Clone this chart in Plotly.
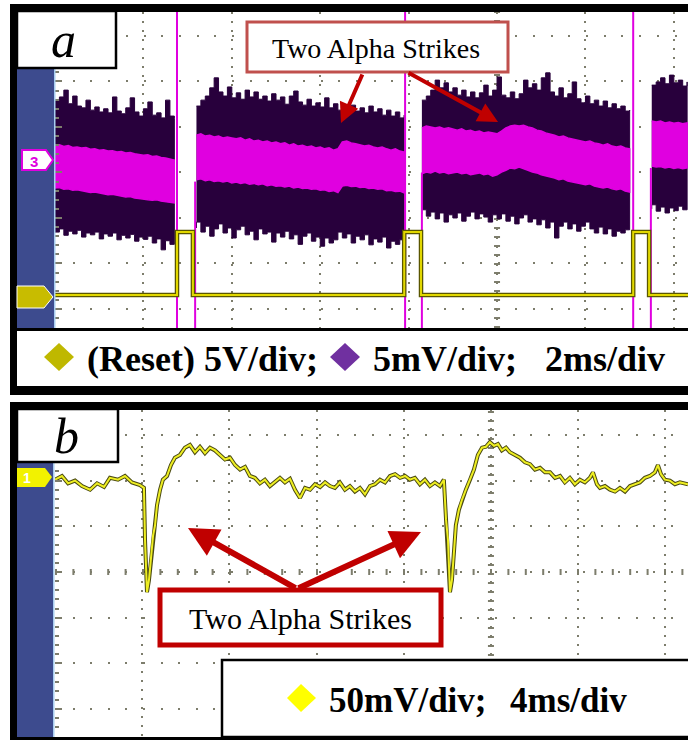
import plotly.graph_objects as go

# ------------------------- data (panel a: 2 ms/div, y in divisions) -------------------------
seg1_t = [0.0, 0.1, 0.2, 0.3, 0.4, 0.5, 0.6, 0.7, 0.8, 0.9, 1.0, 1.1, 1.2, 1.3, 1.4, 1.5, 1.6, 1.7,
          1.8, 1.9, 2.0, 2.1, 2.2, 2.3, 2.4, 2.5, 2.6, 2.7]
seg1_purple_top = [1.59, 1.66, 1.81, 1.51, 1.68, 1.46, 1.42, 1.59, 1.37, 1.44, 1.33, 1.40, 1.31, 1.66,
                   1.35, 1.29, 1.42, 1.64, 1.33, 1.24, 1.40, 1.55, 1.26, 1.31, 1.20, 1.59, 1.24, 1.18]
seg1_purple_bot = [-1.20, -1.31, -1.24, -1.38, -1.29, -1.35, -1.27, -1.42, -1.33, -1.37, -1.31, -1.46,
                   -1.35, -1.40, -1.33, -1.48, -1.38, -1.44, -1.36, -1.51, -1.42, -1.47, -1.40, -1.55,
                   -1.46, -1.70, -1.50, -1.58]
seg1_mag_top = [0.60, 0.61, 0.57, 0.59, 0.55, 0.56, 0.54, 0.55, 0.51, 0.52, 0.49, 0.50, 0.47, 0.48,
                0.45, 0.46, 0.43, 0.44, 0.41, 0.40, 0.38, 0.39, 0.35, 0.36, 0.33, 0.32, 0.29, 0.27]
seg1_mag_bot = [-0.34, -0.33, -0.37, -0.36, -0.39, -0.38, -0.41, -0.42, -0.44, -0.43, -0.46, -0.47,
                -0.49, -0.48, -0.51, -0.52, -0.54, -0.53, -0.56, -0.57, -0.58, -0.60, -0.61, -0.60,
                -0.63, -0.64, -0.66, -0.67]

seg2_t = [3.2, 3.3, 3.4, 3.5, 3.6, 3.7, 3.8, 3.9, 4.0, 4.1, 4.2, 4.3, 4.4, 4.5, 4.6, 4.7, 4.8, 4.9,
          5.0, 5.1, 5.2, 5.3, 5.4, 5.5, 5.6, 5.7, 5.8, 5.9, 6.0, 6.1, 6.2, 6.3, 6.4, 6.5, 6.6, 6.7,
          6.8, 6.9, 7.0, 7.1, 7.2, 7.3, 7.4, 7.5, 7.6, 7.7, 7.8, 7.9]
seg2_purple_top = [1.46, 1.59, 1.68, 1.86, 2.08, 1.77, 1.68, 1.88, 1.64, 1.75,
                   1.61, 1.81, 1.66, 1.77, 1.61, 1.68, 1.57, 1.73, 1.59, 1.66,
                   1.50, 1.68, 1.79, 1.55, 1.48, 1.61, 1.46, 1.53, 1.44, 1.64,
                   1.42, 1.51, 1.37, 1.44, 1.33, 1.48, 1.35, 1.42, 1.31, 1.46,
                   1.33, 1.40, 1.26, 1.37, 1.24, 1.33, 1.20, 1.26]
seg2_purple_bot = [-1.22, -1.09, -1.31, -1.18, -1.40, -1.24, -1.13, -1.33, -1.22, -1.44,
                   -1.26, -1.18, -1.37, -1.29, -1.48, -1.24, -1.35, -1.31, -1.53, -1.33,
                   -1.42, -1.29, -1.46, -1.37, -1.58, -1.40, -1.33, -1.51, -1.42, -1.62,
                   -1.44, -1.55, -1.48, -1.31, -1.44, -1.35, -1.55, -1.40, -1.48, -1.37,
                   -1.59, -1.46, -1.53, -1.42, -1.66, -1.51, -1.58, -1.48]
seg2_mag_top = [0.82, 0.85, 0.80, 0.82, 0.78, 0.80, 0.76, 0.78, 0.76, 0.74,
                0.76, 0.71, 0.74, 0.69, 0.71, 0.67, 0.69, 0.65, 0.67, 0.63,
                0.65, 0.60, 0.63, 0.58, 0.60, 0.56, 0.58, 0.54, 0.56, 0.52,
                0.54, 0.49, 0.52, 0.67, 0.69, 0.65, 0.63, 0.60, 0.58, 0.60,
                0.56, 0.54, 0.56, 0.52, 0.49, 0.52, 0.47, 0.45]
seg2_mag_bot = [-0.16, -0.14, -0.18, -0.16, -0.20, -0.18, -0.21, -0.19, -0.23, -0.21,
                -0.24, -0.22, -0.26, -0.24, -0.27, -0.25, -0.29, -0.27, -0.30, -0.29,
                -0.32, -0.30, -0.34, -0.32, -0.35, -0.34, -0.37, -0.36, -0.39, -0.38,
                -0.42, -0.40, -0.44, -0.30, -0.28, -0.31, -0.30, -0.33, -0.32, -0.35,
                -0.34, -0.37, -0.36, -0.40, -0.39, -0.42, -0.41, -0.45]

seg3_t = [8.3, 8.4, 8.5, 8.6, 8.7, 8.8, 8.9, 9.0, 9.1, 9.2, 9.3, 9.4, 9.5, 9.6, 9.7, 9.8, 9.9,
          10.0, 10.1, 10.2, 10.3, 10.4, 10.5, 10.6, 10.7, 10.8, 10.9, 11.0, 11.1, 11.2, 11.3,
          11.4, 11.5, 11.6, 11.7, 11.8, 11.9, 12.0, 12.1, 12.2, 12.3, 12.4, 12.5, 12.6, 12.7,
          12.8, 12.9, 13.0]
seg3_purple_top = [1.59, 1.68, 1.81, 2.03, 1.86, 1.97, 1.77, 1.86, 1.70, 1.81,
                   1.66, 1.77, 1.64, 1.75, 1.92, 1.68, 1.81, 2.10, 1.70, 1.64,
                   1.77, 1.62, 1.73, 2.03, 1.86, 1.95, 1.81, 2.08, 2.19, 1.77,
                   1.68, 1.86, 1.64, 1.73, 1.99, 1.62, 1.53, 1.68, 1.51, 1.59,
                   1.46, 1.57, 1.42, 1.51, 1.40, 1.46, 1.35, 1.37]
seg3_purple_bot = [-0.91, -0.82, -0.96, -0.87, -1.02, -0.89, -1.09, -0.93, -1.00, -0.89,
                   -1.07, -0.96, -0.87, -1.02, -0.91, -0.98, -1.09, -0.93, -1.02, -0.91,
                   -1.07, -0.96, -1.13, -1.00, -0.93, -1.09, -1.02, -1.15, -1.04, -1.22,
                   -1.09, -1.44, -1.18, -1.09, -1.24, -1.13, -1.29, -1.18, -1.09, -1.24,
                   -1.33, -1.20, -1.35, -1.24, -1.40, -1.29, -1.33, -1.26]
seg3_mag_top = [0.98, 1.02, 1.00, 0.98, 1.00, 0.96, 0.98, 0.96, 0.93, 0.96,
                0.91, 0.93, 0.89, 0.91, 0.87, 0.89, 0.87, 0.85, 0.91, 0.98,
                1.02, 1.04, 1.02, 1.04, 1.00, 0.98, 0.93, 0.91, 0.87, 0.85,
                0.82, 0.78, 0.80, 0.76, 0.74, 0.71, 0.69, 0.67, 0.69, 0.65,
                0.63, 0.60, 0.63, 0.58, 0.56, 0.58, 0.54, 0.52]
seg3_mag_bot = [-0.03, 0.01, -0.01, 0.03, -0.01, 0.01, -0.03, -0.01, 0.01, -0.03,
                -0.01, -0.05, -0.03, -0.01, -0.05, -0.03, -0.08, -0.05, 0.01, 0.05,
                0.10, 0.08, 0.12, 0.08, 0.05, 0.01, -0.01, -0.05, -0.08, -0.10,
                -0.12, -0.16, -0.14, -0.19, -0.21, -0.23, -0.25, -0.27, -0.25, -0.30,
                -0.32, -0.34, -0.32, -0.36, -0.38, -0.36, -0.41, -0.43]

seg4_t = [13.5, 13.6, 13.7, 13.8, 13.9, 14.0, 14.1, 14.2, 14.3]
seg4_purple_top = [1.92, 1.99, 2.08, 1.95, 2.14, 1.97, 2.03, 1.90, 1.99]
seg4_purple_bot = [-0.80, -0.71, -0.85, -0.76, -0.89, -0.78, -0.84, -0.74, -0.82]
seg4_mag_top = [1.13, 1.11, 1.13, 1.09, 1.11, 1.08, 1.10, 1.07, 1.09]
seg4_mag_bot = [0.14, 0.12, 0.13, 0.10, 0.12, 0.09, 0.11, 0.08, 0.10]

# fast reset transitions of the CH3 trace (time, upper, lower) in divisions
edge_t = [2.76, 3.17, 7.92, 8.30, 13.08, 13.48]
edge_top = [3.6, -0.2, 3.6, 0.0, 3.6, 0.1]
edge_bot = [-3.5, -3.5, -3.5, -3.5, -3.5, -3.5]

# reset signal (5 V/div) in divisions
reset_t = [0.0, 2.76, 3.12, 7.90, 8.28, 13.08, 13.44, 14.32]
reset_v = [-2.69, -1.31, -2.69, -1.31, -2.69, -1.31, -2.69, -2.69]

# ------------------------- data (panel b: 4 ms/div, mV) -------------------------
b_t = [0.00, 0.32, 0.60, 0.92, 1.24, 1.61, 1.93, 2.25, 2.52, 2.89,
       3.21, 3.53, 3.90, 4.08, 4.13, 4.17, 4.22, 4.31, 4.40, 4.50,
       4.59, 4.68, 4.82, 4.95, 5.14, 5.32, 5.50, 5.73, 5.96, 6.19,
       6.42, 6.65, 6.88, 7.11, 7.34, 7.57, 7.80, 8.03, 8.26, 8.49,
       8.72, 8.94, 9.17, 9.40, 9.63, 9.86, 10.09, 10.32, 10.55, 10.78,
       11.01, 11.24, 11.47, 11.70, 11.93, 12.16, 12.39, 12.61, 12.84, 13.07,
       13.30, 13.53, 13.76, 13.99, 14.22, 14.45, 14.68, 14.91, 15.14, 15.37,
       15.60, 15.83, 16.06, 16.28, 16.51, 16.74, 16.97, 17.20, 17.43, 17.66,
       17.84, 17.94, 18.03, 18.12, 18.21, 18.30, 18.39, 18.53, 18.67, 18.85,
       19.04, 19.22, 19.40, 19.59, 19.77, 19.95, 20.14, 20.32, 20.50, 20.69,
       20.87, 21.10, 21.33, 21.56, 21.79, 22.02, 22.25, 22.48, 22.71, 22.94,
       23.17, 23.39, 23.62, 23.85, 24.08, 24.31, 24.54, 24.68, 24.86, 25.00,
       25.23, 25.46, 25.69, 25.92, 26.15, 26.38, 26.61, 26.83, 27.06, 27.29,
       27.52, 27.66, 27.80, 27.98, 28.21, 28.44, 28.67, 29.04]
b_mv = [101, 105, 97, 100, 94, 90, 97, 93, 103, 101,
        105, 98, 95, 92, 35, -3, -22, -9, 13, 40,
        51, 73, 90, 101, 105, 117, 125, 128, 136, 139,
        131, 137, 130, 136, 133, 128, 123, 125, 117, 112,
        115, 105, 103, 97, 101, 94, 98, 103, 98, 102,
        90, 81, 92, 90, 96, 93, 98, 94, 92, 98,
        90, 94, 88, 92, 85, 94, 96, 101, 98, 105,
        107, 103, 105, 101, 103, 96, 101, 94, 98, 94,
        101, 57, 35, -22, -9, 19, 51, 68, 79, 90,
        101, 112, 128, 136, 137, 142, 138, 140, 133, 136,
        131, 128, 125, 120, 118, 112, 114, 109, 109, 103,
        105, 98, 103, 96, 101, 98, 103, 109, 96, 92,
        94, 90, 88, 92, 88, 94, 96, 98, 103, 105,
        109, 117, 107, 101, 100, 96, 98, 96]

# ------------------------- styling -------------------------
W, H = 688, 740
PURPLE = "#28003c"
MAGENTA = "#e000e0"
GRID = "#7d7d6c"
BLUE = "#3d4b8e"
SERIF = "Liberation Serif"


def px(x):
    return x / W


def py(y):
    return 1 - y / H


fig = go.Figure()

segments = [
    (seg1_t, seg1_purple_top, seg1_purple_bot, seg1_mag_top, seg1_mag_bot),
    (seg2_t, seg2_purple_top, seg2_purple_bot, seg2_mag_top, seg2_mag_bot),
    (seg3_t, seg3_purple_top, seg3_purple_bot, seg3_mag_top, seg3_mag_bot),
    (seg4_t, seg4_purple_top, seg4_purple_bot, seg4_mag_top, seg4_mag_bot),
]
for t, ptop, pbot, mtop, mbot in segments:
    fig.add_trace(go.Scatter(x=t + t[::-1], y=ptop + pbot[::-1], mode="lines", fill="toself",
                             fillcolor=PURPLE, line=dict(color=PURPLE, width=1, shape="hv"),
                             xaxis="x", yaxis="y", hoverinfo="skip"))
for t, ptop, pbot, mtop, mbot in segments:
    fig.add_trace(go.Scatter(x=t + t[::-1], y=mtop + mbot[::-1], mode="lines", fill="toself",
                             fillcolor=MAGENTA, line=dict(color=MAGENTA, width=1.5),
                             xaxis="x", yaxis="y", hoverinfo="skip"))

ex, ey = [], []
for t, a, b in zip(edge_t, edge_top, edge_bot):
    ex += [t, t, None]
    ey += [a, b, None]
fig.add_trace(go.Scatter(x=ex, y=ey, mode="lines", line=dict(color=MAGENTA, width=2),
                         xaxis="x", yaxis="y", hoverinfo="skip"))

fig.add_trace(go.Scatter(x=reset_t, y=reset_v, mode="lines", line=dict(color="#5a5600", width=4.5, shape="hv"),
                         xaxis="x", yaxis="y", hoverinfo="skip"))
fig.add_trace(go.Scatter(x=reset_t, y=reset_v, mode="lines", line=dict(color="#e2d800", width=2, shape="hv"),
                         xaxis="x", yaxis="y", hoverinfo="skip"))

fig.add_trace(go.Scatter(x=b_t, y=b_mv, mode="lines", line=dict(color="#4a4a12", width=4),
                         xaxis="x2", yaxis="y2", hoverinfo="skip"))
fig.add_trace(go.Scatter(x=b_t, y=b_mv, mode="lines", line=dict(color="#eeee22", width=2),
                         xaxis="x2", yaxis="y2", hoverinfo="skip"))

common = dict(showticklabels=False, zeroline=False, showline=False, gridcolor=GRID, gridwidth=2)
fig.update_layout(
    width=W, height=H, margin=dict(l=0, r=0, t=0, b=0),
    paper_bgcolor="white", plot_bgcolor="white", showlegend=False,
    xaxis=dict(domain=[px(55), 1], range=[0, 14.32], dtick=2, tick0=0, anchor="y",
               griddash="2px,7px", ticks="", **common),
    yaxis=dict(domain=[py(328), py(12)], range=[-3.418, 3.527], dtick=1, tick0=0, anchor="x",
               griddash="2px,15.7px", ticks="inside", ticklen=7, tickwidth=2, tickcolor=GRID,
               minor=dict(dtick=0.2, ticks="inside", ticklen=4, tickwidth=2, tickcolor=GRID, showgrid=False),
               **common),
    xaxis2=dict(domain=[px(55), 1], range=[0, 29.04], dtick=4, tick0=0, anchor="y2",
                griddash="2px,7px", ticks="", **common),
    yaxis2=dict(domain=[py(737), py(410)], range=[-180.5, 177.2], dtick=50, tick0=0, anchor="x2",
                griddash="2px,15.6px", ticks="inside", ticklen=7, tickwidth=2, tickcolor=GRID,
                minor=dict(dtick=10, ticks="inside", ticklen=4, tickwidth=2, tickcolor=GRID, showgrid=False),
                **common),
)

shapes = []


def rect(x0, y0, x1, y1, fill=None, line=None, lw=0, layer="above"):
    shapes.append(dict(type="rect", xref="paper", yref="paper", x0=px(x0), x1=px(x1), y0=py(y1), y1=py(y0),
                       fillcolor=fill if fill else "rgba(0,0,0,0)",
                       line=dict(color=line if line else "rgba(0,0,0,0)", width=lw), layer=layer))


def poly(points, fill, line=None, lw=0):
    d = "M " + " L ".join(f"{px(a):.5f},{py(b):.5f}" for a, b in points) + " Z"
    shapes.append(dict(type="path", xref="paper", yref="paper", path=d, fillcolor=fill,
                       line=dict(color=line if line else fill, width=lw), layer="above"))


# center graticule lines (denser marks)
shapes.append(dict(type="line", xref="x", yref="y domain", x0=10, x1=10, y0=0, y1=1,
                   line=dict(color=GRID, width=6, dash="2px,7px"), layer="below"))
shapes.append(dict(type="line", xref="x2", yref="y2 domain", x0=20, x1=20, y0=0, y1=1,
                   line=dict(color=GRID, width=6, dash="2px,7px"), layer="below"))
shapes.append(dict(type="line", xref="x2 domain", yref="y2", x0=0, x1=1, y0=0, y1=0,
                   line=dict(color=GRID, width=6, dash="2px,15.4px"), layer="below"))

# ---- panel a frame ----
rect(10, 4, 700, 12, fill="black")
rect(10, 4, 17, 395, fill="black")
rect(10, 328, 700, 331, fill="black")
rect(10, 386, 700, 395, fill="black")
rect(17, 68, 55, 328, fill=BLUE)
rect(54, 68, 55.5, 328, fill="#a8cdf0")
rect(17, 11, 116, 68, fill="white", line="black", lw=2.5)
poly([(22, 150), (46, 150), (53, 160), (46, 170), (22, 170)], "white", MAGENTA, 2)
poly([(17, 286), (44, 286), (53, 297), (44, 308), (17, 308)], "#c8bc00", "white", 1)
rect(247, 22, 508, 72, fill="white", line="#c0504d", lw=3)
poly([(44, 357), (59, 343), (74, 357), (59, 371)], "#bfb800")
poly([(330, 357), (345, 343), (360, 357), (345, 371)], "#7030a0")

# ---- panel b frame ----
rect(10, 402, 700, 410, fill="black")
rect(10, 402, 17, 740, fill="black")
rect(10, 737, 700, 745, fill="black")
rect(17, 462, 54, 737, fill=BLUE)
rect(53, 462, 54.5, 737, fill="#a8cdf0")
rect(17, 409, 118, 462, fill="white", line="black", lw=2.5)
poly([(17, 468), (45, 468), (52, 477), (45, 487), (17, 487)], "#f2f200")
rect(160, 590, 441, 645, fill="white", line="#c00000", lw=5)
rect(222, 660, 700, 737, fill="white", line="black", lw=2.5)
poly([(287, 698), (301, 684), (316, 698), (301, 712)], "#ffff00")

fig.update_layout(shapes=shapes)

ann = []


def text(x, y, s, size, color="black", xanchor="center", family=SERIF):
    ann.append(dict(x=px(x), y=py(y), xref="paper", yref="paper", text=s, showarrow=False,
                    xanchor=xanchor, yanchor="middle", font=dict(family=family, size=size, color=color)))


def arrow(tx, ty, hx, hy, width, color="#c00000"):
    ann.append(dict(x=px(hx), y=py(hy), xref="paper", yref="paper", ax=tx - hx, ay=ty - hy,
                    axref="pixel", ayref="pixel", text="", showarrow=True, arrowhead=2,
                    arrowsize=1, arrowwidth=width, arrowcolor=color, standoff=0, startstandoff=0))


text(63, 40, "<i>a</i>", 50)
text(34, 161, "<b>3</b>", 15, MAGENTA, family="Liberation Sans")
text(376, 48, "Two Alpha Strikes", 28)
arrow(363, 73, 341, 123, 4)
arrow(407, 72, 498, 122, 4)
text(85, 359, "<b>(Reset) 5V/div;</b>", 36, xanchor="left")
text(371, 359, "<b>5mV/div;</b>", 36, xanchor="left")
text(543, 359, "<b>2ms/div</b>", 36, xanchor="left")

text(66, 436, "<i>b</i>", 50)
text(27, 478, "<b>1</b>", 14, "white", family="Liberation Sans")
text(300, 618, "Two Alpha Strikes", 30)
arrow(297, 589, 188, 528, 6)
arrow(297, 589, 421, 532, 6)
text(327, 700, "<b>50mV/div;</b>", 35, xanchor="left")
text(508, 700, "<b>4ms/div</b>", 35, xanchor="left")

fig.update_layout(annotations=ann)
fig.write_html("out.html")
